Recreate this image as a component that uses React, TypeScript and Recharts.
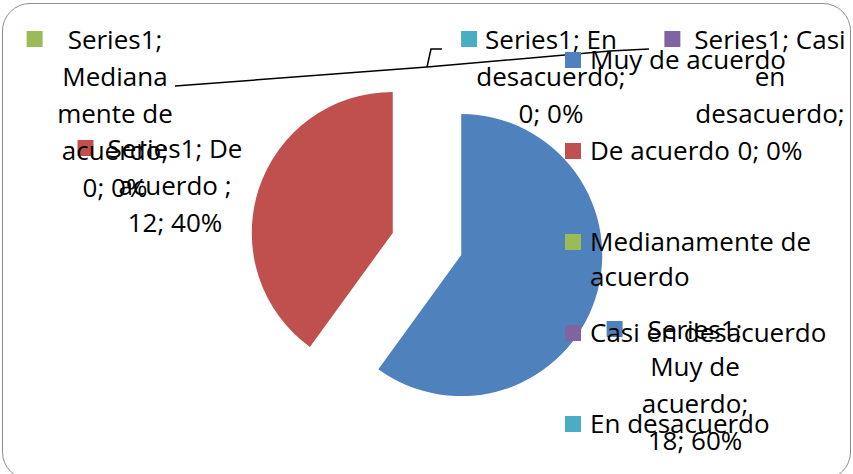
import { Cell, Legend, Pie, PieChart, Sector, Tooltip } from "recharts";

const SERIES_NAME = "Series1";
const categories = [
  "Muy de acuerdo",
  "De acuerdo ",
  "Medianamente de acuerdo",
  "Casi en desacuerdo",
  "En desacuerdo",
];
const counts = [18, 12, 0, 0, 0];
const colors = ["#4F81BD", "#C0504D", "#9BBB59", "#8064A2", "#4BACC6"];

const data = categories.map((name, i) => ({ name, value: counts[i] }));

const FONT_NAME = "Open Sans";
const FONT = "'Open Sans', 'Liberation Sans', sans-serif";
const FONT_SIZE = 26;
const LINE_H = 37;
const KEY = 16;
const CX = 422;
const CY = 239;
const R = 141;
const EXPLODE = 36;
const RAD = Math.PI / 180;

// data label boxes, relative to the pie centre: centre of the text block and
// its first line, the wrap width, gap before the key, and leader bend points
const LABEL_LAYOUT = [
  { dx: 268, dy: 85, wrap: 125, gap: 25, leader: null },
  { dx: -252, dy: -96, wrap: 145, gap: 14, leader: null },
  { dx: -312, dy: -205, wrap: 128, gap: 25, leader: [[-252, -158]] },
  { dx: 343, dy: -205, wrap: 155, gap: 14, leader: [[183, -193], [222, -195]] },
  { dx: 124, dy: -205, wrap: 150, gap: 8, leader: [[4, -195], [15, -195]] },
];

let measureCtx: CanvasRenderingContext2D | null = null;
function textWidth(s: string) {
  if (!measureCtx) measureCtx = document.createElement("canvas").getContext("2d");
  measureCtx!.font = `${FONT_SIZE}px '${FONT_NAME}'`;
  return measureCtx!.measureText(s).width;
}

// greedy word wrap; words longer than the box get split by characters
function wrap(text: string, max: number) {
  const words = text.split(" ").filter(Boolean);
  const lines: string[] = [];
  let cur = "";
  for (const w of words) {
    const trial = cur ? cur + " " + w : w;
    if (textWidth(trial) <= max) {
      cur = trial;
      continue;
    }
    if (cur) lines.push(cur);
    cur = w;
    while (textWidth(cur) > max) {
      let k = cur.length;
      while (k > 1 && textWidth(cur.slice(0, k)) > max) k--;
      lines.push(cur.slice(0, k));
      cur = cur.slice(k);
    }
  }
  if (cur) lines.push(cur);
  return lines;
}

function ExplodedSlice(props: any) {
  const { cx, cy, innerRadius, outerRadius, startAngle, endAngle, fill } = props;
  const mid = props.midAngle ?? (startAngle + endAngle) / 2;
  const ox = EXPLODE * Math.cos(-mid * RAD);
  const oy = EXPLODE * Math.sin(-mid * RAD);
  return (
    <Sector
      cx={cx + ox}
      cy={cy + oy}
      innerRadius={innerRadius}
      outerRadius={outerRadius}
      startAngle={startAngle}
      endAngle={endAngle}
      fill={fill}
      stroke="none"
    />
  );
}

function DataLabel(props: any) {
  const { cx, cy, outerRadius, index, percent, value } = props;
  const name = props.payload?.name ?? props.name;
  const mid = props.midAngle ?? 0;
  const lay = LABEL_LAYOUT[index];
  const bx = cx + lay.dx;
  const by = cy + lay.dy;
  const text = `${SERIES_NAME}; ${name}; ${value}; ${Math.round(percent * 100)}%`;
  const lines = wrap(text, lay.wrap);
  const keyX = bx - textWidth(lines[0]) / 2 - lay.gap - KEY;

  let leader = null;
  if (lay.leader) {
    const ox = cx + (outerRadius + EXPLODE) * Math.cos(-mid * RAD);
    const oy = cy + (outerRadius + EXPLODE) * Math.sin(-mid * RAD);
    const pts = [[ox, oy], ...lay.leader.map(([x, y]) => [cx + x, cy + y])];
    leader = (
      <polyline
        points={pts.map((p) => p.join(",")).join(" ")}
        fill="none"
        stroke="#000"
        strokeWidth={1.5}
      />
    );
  }

  return (
    <g>
      {leader}
      <rect x={keyX} y={by - KEY / 2} width={KEY} height={KEY} fill={colors[index]} />
      {lines.map((l, i) => (
        <text
          key={i}
          x={bx}
          y={by + i * LINE_H}
          textAnchor="middle"
          dominantBaseline="central"
          fontFamily={FONT}
          fontSize={FONT_SIZE}
          fill="#000"
        >
          {l}
        </text>
      ))}
    </g>
  );
}

function LegendBox() {
  return (
    <div style={{ fontFamily: FONT, fontSize: FONT_SIZE, color: "#000" }}>
      {categories.map((c, i) => (
        <div key={c} style={{ display: "flex", alignItems: "flex-start", height: 91 }}>
          <div
            style={{
              width: KEY,
              height: KEY,
              background: colors[i],
              marginTop: 10,
              marginRight: 9,
              flex: "none",
            }}
          />
          <div style={{ lineHeight: "35px", maxWidth: 250 }}>{c}</div>
        </div>
      ))}
    </div>
  );
}

export default function App() {
  return (
    <div
      style={{
        position: "absolute",
        left: 0,
        top: 0,
        width: 853,
        height: 474,
        overflow: "hidden",
        background: "#fff",
      }}
    >
      <div
        style={{
          position: "absolute",
          left: 2,
          top: 3,
          width: 849,
          height: 477,
          border: "1.5px solid #8c8c8c",
          borderRadius: 28,
          boxSizing: "border-box",
        }}
      />
      <div style={{ position: "absolute", left: 0, top: 0 }}>
        <PieChart width={853} height={474}>
          <Pie
            data={data}
            dataKey="value"
            nameKey="name"
            cx={CX}
            cy={CY}
            outerRadius={R}
            startAngle={90}
            endAngle={-270}
            stroke="none"
            shape={ExplodedSlice}
            activeShape={ExplodedSlice}
            inactiveShape={ExplodedSlice}
            label={DataLabel}
            labelLine={false}
            isAnimationActive={false}
          >
            {data.map((d, i) => (
              <Cell key={d.name} fill={colors[i]} />
            ))}
          </Pie>
          <Tooltip defaultIndex={0} content={() => null} cursor={false} />
          <Legend
            layout="vertical"
            verticalAlign="top"
            align="right"
            wrapperStyle={{ left: 565, top: 42, width: 270, right: "auto" }}
            content={() => <LegendBox />}
          />
        </PieChart>
      </div>
    </div>
  );
}
